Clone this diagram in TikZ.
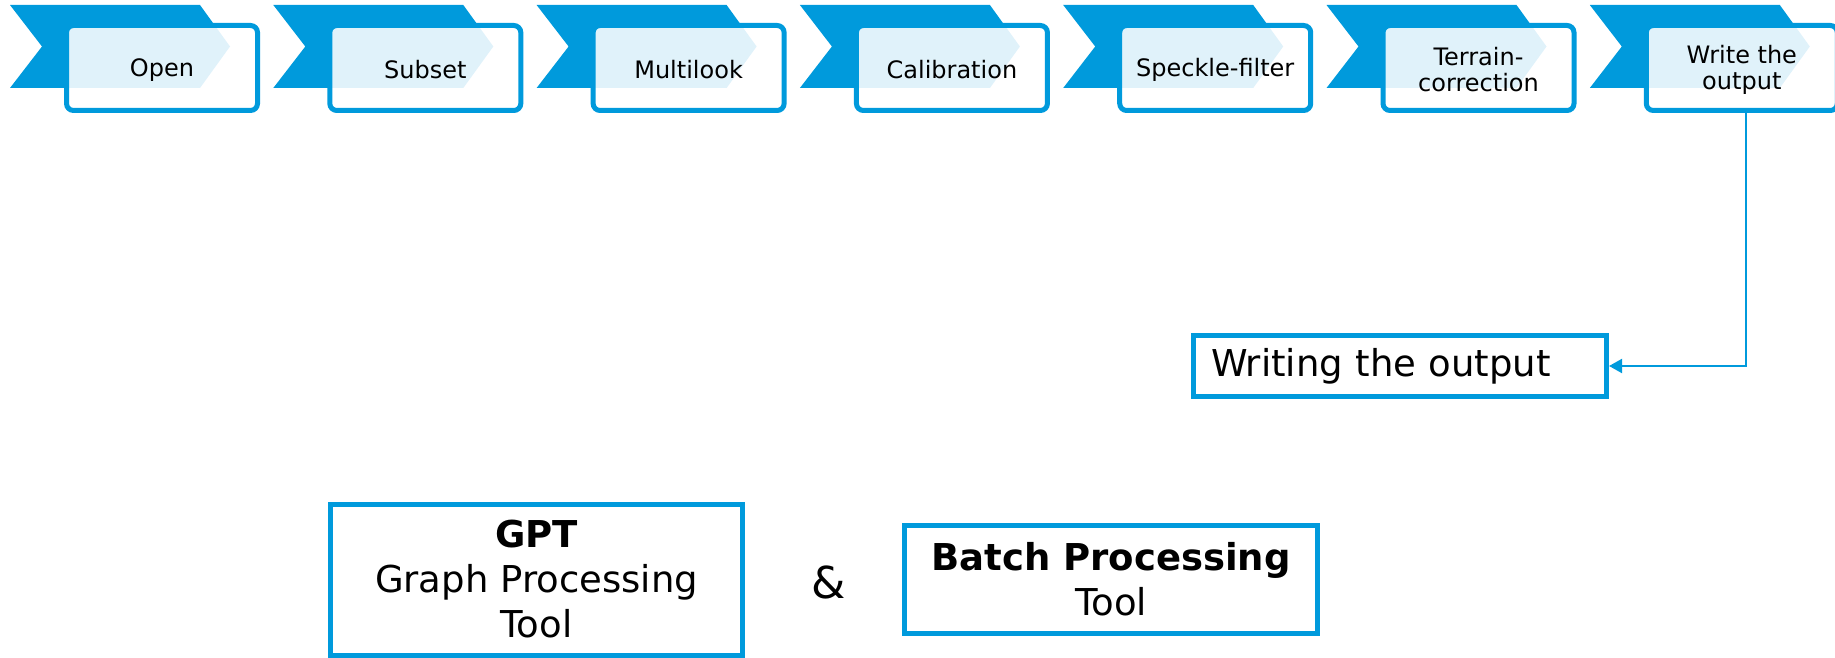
\documentclass[tikz,border=0pt]{standalone}
\usepackage{fontspec}
\setmainfont{DejaVu Sans}
\usetikzlibrary{arrows.meta}
\definecolor{sblue}{RGB}{0,154,220}
\tikzset{
  chev/.style={fill=sblue},
  stepbox/.style={draw=sblue, line width=5pt, rounded corners=7pt, fill=white, fill opacity=0.88, text opacity=1,
    minimum width=191pt, minimum height=85pt, inner sep=0pt, align=center,
    font=\fontsize{24}{26}\selectfont},
  outbox/.style={draw=sblue, line width=5pt, fill=white, inner sep=0pt,
    font=\fontsize{37}{45}\selectfont},
  conn/.style={draw=sblue, line width=2pt, -{Triangle[length=13pt,width=14pt]}}
}
\begin{document}
\begin{tikzpicture}[x=1pt,y=-1pt]
\useasboundingbox (0,0) rectangle (1835,658);
\foreach \k/\t in {1/Open,2/Subset,3/Multilook,4/Calibration,5/Speckle-filter,6/{Terrain-\\correction},7/{Write the\\output}}{
  \pgfmathsetmacro{\xo}{10+263.3*(\k-1)}
  \fill[chev] (\xo,5) -- (\xo+190,5) -- (\xo+220,46.5) -- (\xo+190,88) -- (\xo,88) -- (\xo+32,46.5) -- cycle;
  \node[stepbox] (s\k) at (\xo+152,68) {};
  \node[font=\fontsize{24}{26}\selectfont, align=center, inner sep=0pt] (t\k) at (\xo+152,70) {\t};
}
\node[outbox, minimum width=413pt, minimum height=61pt, text width=378pt, align=left] (w) at (1400,366) {Writing the output};
\coordinate (drop) at ([xshift=4pt]s7.south);
\draw[conn] (drop) |- (w.east);
\node[outbox, minimum width=412pt, minimum height=151pt, align=center] (gpt) at (536.5,579.5) {\textbf{GPT}\\Graph Processing\\Tool};
\node[font=\fontsize{44}{44}\selectfont, inner sep=0pt] (amp) at (829,582) {\&};
\node[outbox, minimum width=413pt, minimum height=108pt, align=center] (bpt) at (1111,579.5) {\textbf{Batch Processing}\\Tool};
\end{tikzpicture}
\end{document}
